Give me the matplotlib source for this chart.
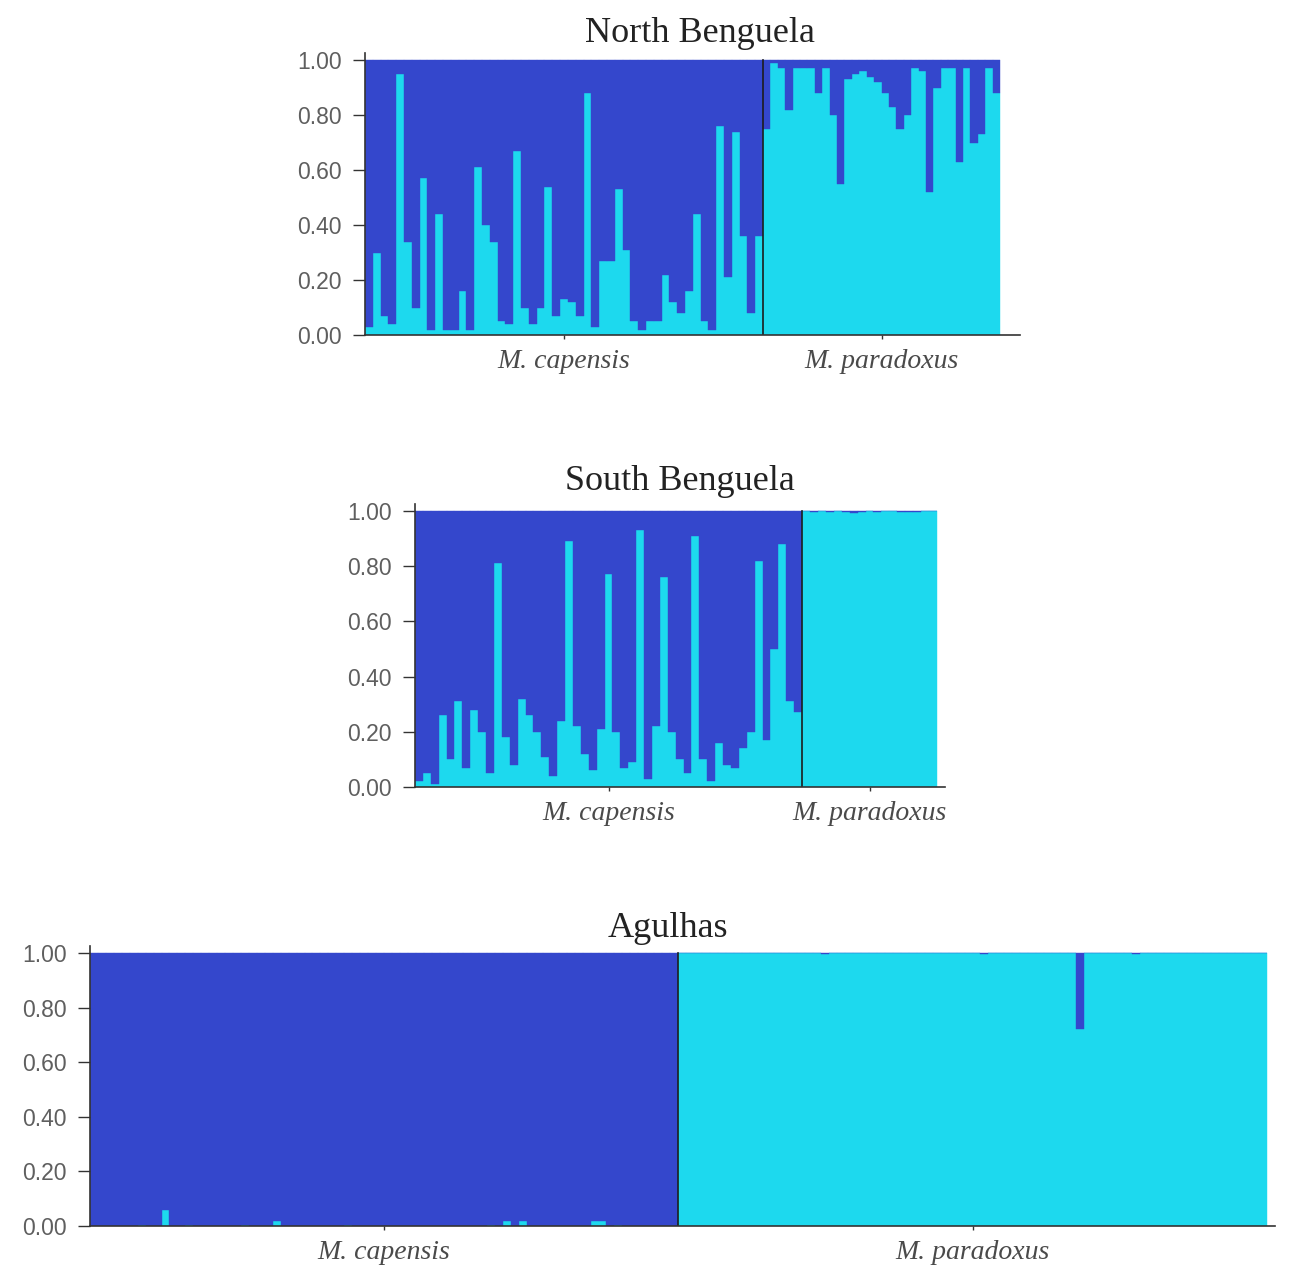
"""
STRUCTURE-style admixture bars (K=2) for three hake regions.
Output: out.png
"""
import matplotlib
matplotlib.use("Agg")
import matplotlib.pyplot as plt

W, H = 1291, 1271
DARK = "#3447cc"
CYAN = "#1dd9ee"

GROUPS = ["M. capensis", "M. paradoxus"]
YTICKS = [0.0, 0.2, 0.4, 0.6, 0.8, 1.0]
YTICK_LABELS = ["0.00", "0.20", "0.40", "0.60", "0.80", "1.00"]

# membership in the light (paradoxus) cluster, one value per individual
north_capensis = [0.03, 0.30, 0.07, 0.04, 0.95, 0.34, 0.10, 0.57, 0.02, 0.44,
                  0.02, 0.02, 0.16, 0.02, 0.61, 0.40, 0.34, 0.05, 0.04, 0.67,
                  0.10, 0.04, 0.10, 0.54, 0.07, 0.13, 0.12, 0.07, 0.88, 0.03,
                  0.27, 0.27, 0.53, 0.31, 0.05, 0.02, 0.05, 0.05, 0.22, 0.12,
                  0.08, 0.16, 0.44, 0.05, 0.02, 0.76, 0.21, 0.74, 0.36, 0.08,
                  0.36]
north_paradoxus = [0.75, 0.99, 0.97, 0.82, 0.97, 0.97, 0.97, 0.88, 0.97, 0.80,
                   0.55, 0.93, 0.95, 0.96, 0.94, 0.92, 0.88, 0.83, 0.75, 0.80,
                   0.97, 0.96, 0.52, 0.90, 0.97, 0.97, 0.63, 0.97, 0.70, 0.73,
                   0.97, 0.88]

south_capensis = [0.02, 0.05, 0.01, 0.26, 0.10, 0.31, 0.07, 0.28, 0.20, 0.05,
                  0.81, 0.18, 0.08, 0.32, 0.26, 0.20, 0.11, 0.04, 0.24, 0.89,
                  0.22, 0.12, 0.06, 0.21, 0.77, 0.20, 0.07, 0.09, 0.93, 0.03,
                  0.22, 0.76, 0.20, 0.10, 0.05, 0.91, 0.10, 0.02, 0.16, 0.08,
                  0.07, 0.14, 0.20, 0.82, 0.17, 0.50, 0.88, 0.31, 0.27]
south_paradoxus = [1.00, 0.997, 1.00, 0.997, 1.00, 0.996, 0.994, 0.995, 1.00,
                   0.997, 1.00, 1.00, 0.997, 0.995, 0.997, 1.00, 1.00]

agulhas_capensis = [0.0, 0.0, 0.0, 0.0, 0.0, 0.0, 0.005, 0.0, 0.0, 0.06,
                    0.0, 0.0, 0.005, 0.0, 0.0, 0.0, 0.0, 0.0, 0.0, 0.005,
                    0.0, 0.0, 0.0, 0.02, 0.0, 0.0, 0.0, 0.0, 0.0, 0.0,
                    0.0, 0.0, 0.005, 0.0, 0.0, 0.0, 0.0, 0.0, 0.0, 0.0,
                    0.0, 0.0, 0.0, 0.0, 0.0, 0.0, 0.0, 0.0, 0.0, 0.0,
                    0.005, 0.0, 0.02, 0.0, 0.02, 0.0, 0.0, 0.0, 0.0, 0.0,
                    0.0, 0.0, 0.0, 0.02, 0.02, 0.0, 0.005, 0.0, 0.0, 0.0,
                    0.0, 0.0, 0.0, 0.0]
agulhas_paradoxus = [1.0, 1.0, 1.0, 1.0, 1.0, 1.0, 1.0, 1.0, 1.0, 1.0,
                     1.0, 1.0, 1.0, 1.0, 1.0, 1.0, 1.0, 1.0, 0.995, 1.0,
                     1.0, 1.0, 1.0, 1.0, 1.0, 1.0, 1.0, 1.0, 1.0, 1.0,
                     1.0, 1.0, 1.0, 1.0, 1.0, 1.0, 1.0, 1.0, 0.995, 1.0,
                     1.0, 1.0, 1.0, 1.0, 1.0, 1.0, 1.0, 1.0, 1.0, 1.0,
                     0.72, 1.0, 1.0, 1.0, 1.0, 1.0, 1.0, 0.995, 1.0, 1.0,
                     1.0, 1.0, 1.0, 1.0, 1.0, 1.0, 1.0, 1.0, 1.0, 1.0,
                     1.0, 1.0, 1.0, 1.0]

# pixel layout: left, divider, bars end, axis line end, y of 1.00, y of 0.00,
# title centre x, title baseline y
PANELS = [
    ("North Benguela", north_capensis, north_paradoxus,
     (365, 763, 1000, 1020, 60, 335, 700, 42)),
    ("South Benguela", south_capensis, south_paradoxus,
     (415, 802, 937, 945, 511, 787, 680, 490)),
    ("Agulhas", agulhas_capensis, agulhas_paradoxus,
     (90, 678, 1267, 1275, 953, 1226, 668, 937)),
]

TOP_PAD = 7  # px of white above the bars


def draw_panel(fig, title, cap, para, lay):
    left, div, bar_end, line_end, y1, y0, tx, ty = lay
    ax = fig.add_axes([left / W, 1 - y0 / H,
                       (line_end - left) / W, (y0 - y1 + TOP_PAD) / H])
    ax.set_xlim(0, line_end - left)
    ax.set_ylim(0, 1 + TOP_PAD / (y0 - y1))

    spans = [(0, div - left), (div - left, bar_end - left)]
    for vals, (x0, x1) in zip([cap, para], spans):
        w = (x1 - x0) / len(vals)
        xs = [x0 + (i + 0.5) * w for i in range(len(vals))]
        ax.bar(xs, vals, width=w, color=CYAN, edgecolor=CYAN, linewidth=0.3)
        ax.bar(xs, [1 - v for v in vals], bottom=vals, width=w,
               color=DARK, edgecolor=DARK, linewidth=0.3)
    ax.plot([div - left, div - left], [0, 1], color="#1c1c1c", lw=1.2)

    ax.set_xticks([(a + b) / 2 for a, b in spans])
    ax.set_xticklabels(GROUPS, fontsize=20, family="Liberation Serif",
                       style="italic", color="#4a4a4a")
    ax.set_yticks(YTICKS)
    ax.set_yticklabels(YTICK_LABELS, fontsize=16.5, family="Liberation Sans",
                       color="#5f5f5f")
    ax.tick_params(axis="y", length=9, width=1, color="#333333", pad=8)
    ax.tick_params(axis="x", length=3, width=1, color="#333333", pad=7)

    for s in ["top", "right"]:
        ax.spines[s].set_visible(False)
    for s in ["left", "bottom"]:
        ax.spines[s].set_color("#333333")
        ax.spines[s].set_linewidth(1.2)

    fig.text(tx / W, 1 - ty / H, title, ha="center", va="baseline",
             fontsize=26, family="Liberation Serif", color="#222222")


def main():
    fig = plt.figure(figsize=(W / 100, H / 100), dpi=100)
    for title, cap, para, lay in PANELS:
        draw_panel(fig, title, cap, para, lay)
    fig.savefig("out.png", dpi=100)
    plt.close(fig)


if __name__ == "__main__":
    main()
